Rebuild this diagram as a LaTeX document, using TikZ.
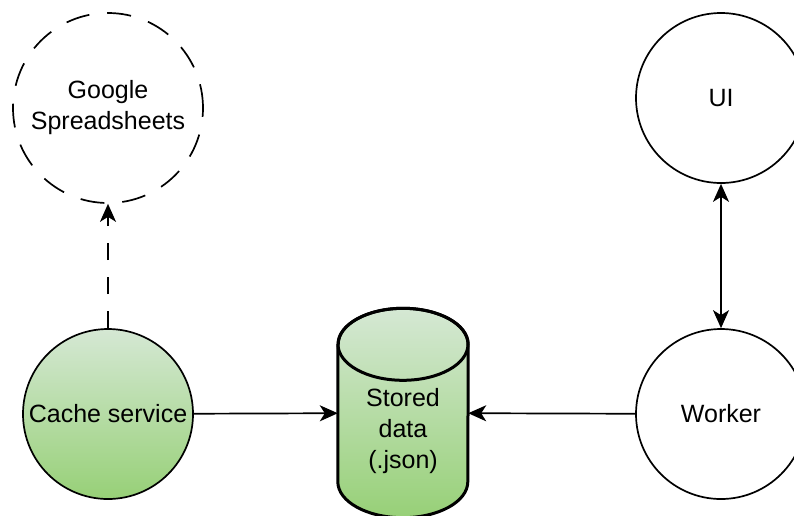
\documentclass[tikz,border=0pt]{standalone}
\usepackage{fontspec}
\setmainfont{Liberation Sans}
\usetikzlibrary{arrows.meta,positioning}
\definecolor{greentop}{HTML}{D5E8D4}
\definecolor{greenbot}{HTML}{97D077}
\tikzstyle{service}=[draw,circle,line width=1.7pt,minimum size=170pt,inner sep=0pt,align=center,font=\fontsize{25}{31}\selectfont]
\tikzstyle{store}=[minimum height=209pt,minimum width=130pt,inner sep=0pt]
\tikzstyle{cyl}=[line width=3pt,line join=round]
\tikzstyle{edge}=[line width=1.7pt,-{Stealth[length=18pt,width=16pt,inset=5pt]}]

\begin{document}
\begin{tikzpicture}[x=1pt,y=-1pt]
\useasboundingbox (0,0) rectangle (794,515);
\node [service,minimum size=190pt,dash pattern=on 24pt off 18pt] (google) at (108,108) {Google\\Spreadsheets};
\node [service,top color=greentop,bottom color=greenbot] (cache) at (108,414) {Cache service};
\node [store] (data) at (403,413) {};
% cylinder round the store node
\draw [cyl,top color=greentop,bottom color=greenbot] ([yshift=-36pt]data.north west) -- ([yshift=36pt]data.south west)
  arc [start angle=180,end angle=360,x radius=65pt,y radius=36pt]
  -- ([yshift=-36pt]data.north east)
  arc [start angle=0,end angle=180,x radius=65pt,y radius=36pt] -- cycle;
\draw [cyl] ([yshift=-36pt]data.north) ellipse [x radius=65pt,y radius=36pt];
\node [align=center,font=\fontsize{25}{31}\selectfont,yshift=-18pt] (datatext) at (data.center) {Stored\\data\\(.json)};
\node [service] (ui) at (721,98) {UI};
\node [service] (worker) at (721,414) {Worker};

\draw [edge,dash pattern=on 17pt off 17pt] (cache) -- (google);
\draw [edge] (cache) -- (data);
\draw [edge] (worker) -- (data);
\draw [edge,{Stealth[length=18pt,width=16pt,inset=5pt]}-{Stealth[length=18pt,width=16pt,inset=5pt]}] (ui) -- (worker);
\end{tikzpicture}
\end{document}
